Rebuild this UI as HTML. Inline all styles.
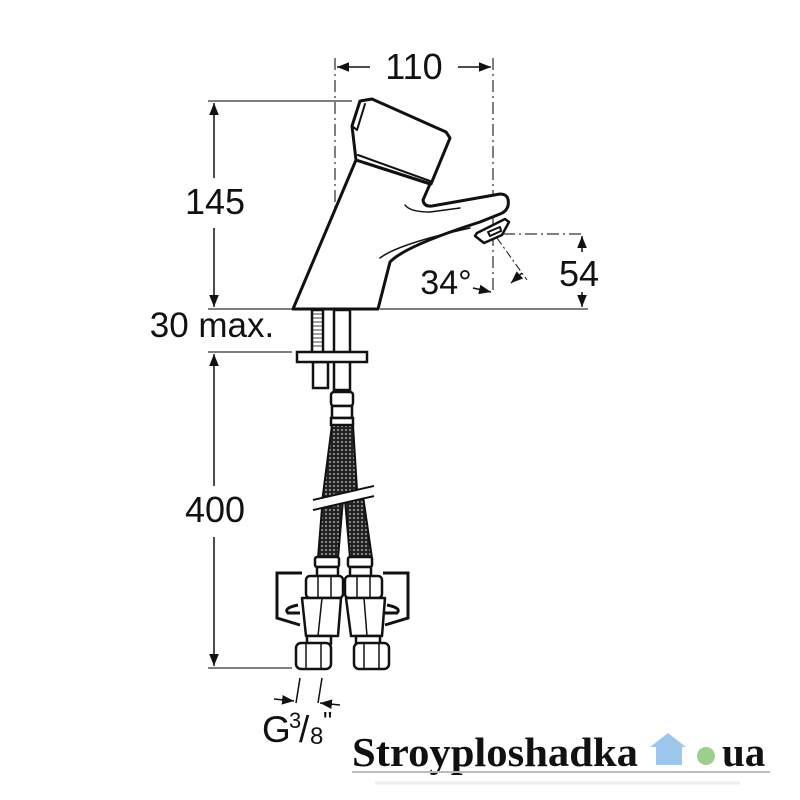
<!DOCTYPE html>
<html><head><meta charset="utf-8"><style>
html,body{margin:0;padding:0;background:#fff;width:800px;height:800px;overflow:hidden}
svg{display:block}
text{font-family:"Liberation Sans",sans-serif;fill:#111}
</style></head><body>
<svg width="800" height="800" viewBox="0 0 800 800" xmlns="http://www.w3.org/2000/svg">
<defs>
<pattern id="br" width="4" height="4" patternUnits="userSpaceOnUse">
<rect width="4" height="4" fill="#222"/><circle cx="2" cy="2" r="0.9" fill="#ccc"/>
</pattern>
<marker id="ar" viewBox="0 0 10 10" refX="10" refY="5" markerWidth="8" markerHeight="8" orient="auto-start-reverse"><path d="M0,1 L10,5 L0,9 z" fill="#111"/></marker>
</defs>
<g stroke="#555" stroke-width="1.5" fill="none">
<line x1="335" y1="58" x2="335" y2="290" stroke-dasharray="12,4,2,4"/>
<line x1="493" y1="58" x2="493" y2="290" stroke-dasharray="12,4,2,4"/>
<line x1="503" y1="234" x2="585" y2="234" stroke-dasharray="12,4,2,4"/>
<line x1="208" y1="101" x2="352" y2="101"/>
<line x1="208" y1="309" x2="292" y2="309"/>
<line x1="380" y1="309" x2="588" y2="309"/>
<line x1="208" y1="352" x2="292" y2="352"/>
<line x1="208" y1="668" x2="292" y2="668"/>
</g>
<g stroke="#111" stroke-width="1.5" fill="none">
<line x1="214" y1="103" x2="214" y2="178" marker-start="url(#ar)"/>
<line x1="214" y1="228" x2="214" y2="307" marker-end="url(#ar)"/>
<line x1="214" y1="354" x2="214" y2="486" marker-start="url(#ar)"/>
<line x1="214" y1="537" x2="214" y2="666" marker-end="url(#ar)"/>
<line x1="370" y1="67" x2="337" y2="67" marker-end="url(#ar)"/>
<line x1="458" y1="67" x2="491" y2="67" marker-end="url(#ar)"/>
<line x1="582" y1="252" x2="582" y2="236" marker-end="url(#ar)"/>
<line x1="582" y1="292" x2="582" y2="307" marker-end="url(#ar)"/>
<line x1="473" y1="288" x2="491" y2="292" marker-end="url(#ar)"/>
<line x1="522" y1="273" x2="511" y2="283" marker-end="url(#ar)"/>
<line x1="497" y1="238" x2="527" y2="280" stroke-dasharray="8,3,2,3" stroke-width="1"/>
<line x1="300" y1="678" x2="296" y2="703"/>
<line x1="322" y1="678" x2="318" y2="703"/>
<line x1="274" y1="699" x2="294" y2="701" marker-end="url(#ar)"/>
<line x1="340" y1="705" x2="320" y2="703" marker-end="url(#ar)"/>
</g>
<g stroke="#111" stroke-width="3" fill="#fff" stroke-linejoin="round" stroke-linecap="round">
<path d="M293,309 L356,160 L430,184 L423,200 Q424,207 432,206 L500,194 Q510,194 508,206 Q506,212 500,214 L480,222 Q405,246 390,262 L378,309 Z"/>
<path d="M356,160 L352,126 L360,101 L372,99 L446,132 L450,138 L431,184 Z"/>
<path d="M352,126 L357,130 L365,104" fill="none" stroke-width="2"/>
<path d="M358,155 L430,181" fill="none" stroke-width="2"/>
<path d="M477,233 L505,219 L509,222 L502,235 L484,243 L475,236 Z" stroke-width="2.5"/>
<path d="M488,232 L500,227 L501,231 L490,236 Z" stroke-width="2"/>
<path d="M405,205 Q410,212 430,212 L460,208" fill="none" stroke-width="1.5"/>
<path d="M380,258 Q398,244 470,228" fill="none" stroke-width="1.5"/>
</g>
<g stroke="#111" stroke-width="2.5" fill="#fff">
<rect x="312" y="310" width="11" height="43"/>
<rect x="313" y="362" width="15" height="26"/>
<rect x="334" y="310" width="16" height="80"/>
<rect x="297" y="352" width="70" height="10"/>
</g>
<g stroke="#444" stroke-width="1">
<path d="M313,314h9M313,318h9M313,322h9M313,326h9M313,330h9M313,334h9M313,338h9M313,342h9M313,346h9"/>
</g>
<g stroke="#111" stroke-width="2.5" fill="#fff">
<rect x="331" y="392" width="22" height="14" rx="3"/>
<rect x="332" y="406" width="20" height="12"/>
<rect x="331" y="418" width="22" height="7"/>
</g>
<path d="M332,425 L353,425 L357,490 L322,502 Z" fill="url(#br)" stroke="#111" stroke-width="2"/>
<path d="M322,508 L343,500 L338,558 L318,558 Z" fill="url(#br)" stroke="#111" stroke-width="2"/>
<path d="M345,500 L363,496 L372,558 L350,558 Z" fill="url(#br)" stroke="#111" stroke-width="2"/>
<path d="M313,500 L374,486 M313,510 L374,496" stroke="#111" stroke-width="2"/>
<path d="M313,501 L374,487 L374,495 L313,509 Z" fill="#fff"/>
<g stroke="#111" stroke-width="3" fill="#fff">
<path d="M302,573 L277,573 L277,618 L300,625"/>
<path d="M298,605 Q283,608 288,613 L300,613"/>
<path d="M383,573 L408,573 L408,618 L385,625"/>
<path d="M387,605 Q402,608 397,613 L385,613"/>
</g>
<g stroke="#111" stroke-width="2.5" fill="#fff" stroke-linejoin="round">
<rect x="315" y="557" width="24" height="10" rx="2"/>
<rect x="317" y="567" width="21" height="9"/>
<rect x="306" y="576" width="37" height="22" rx="4"/>
<path d="M302,598 L341,598 L338,636 L306,636 Z"/>
<rect x="307" y="636" width="24" height="8"/>
<rect x="296" y="643" width="35" height="26" rx="5"/>
<rect x="348" y="557" width="24" height="10" rx="2"/>
<rect x="350" y="567" width="21" height="9"/>
<rect x="345" y="576" width="37" height="22" rx="4"/>
<path d="M346,598 L385,598 L382,636 L351,636 Z"/>
<rect x="356" y="636" width="24" height="8"/>
<rect x="354" y="643" width="35" height="26" rx="5"/>
</g>
<g stroke="#111" stroke-width="1.5">
<line x1="322" y1="598" x2="318" y2="636"/><line x1="364" y1="598" x2="367" y2="636"/>
<line x1="306" y1="643" x2="306" y2="669"/><line x1="321" y1="643" x2="321" y2="669"/>
<line x1="364" y1="643" x2="364" y2="669"/><line x1="379" y1="643" x2="379" y2="669"/>
<line x1="318" y1="576" x2="318" y2="598"/><line x1="331" y1="576" x2="331" y2="598"/>
<line x1="357" y1="576" x2="357" y2="598"/><line x1="370" y1="576" x2="370" y2="598"/>
</g>
<text x="414" y="79" font-size="36" text-anchor="middle">110</text>
<text x="215" y="214" font-size="36" text-anchor="middle">145</text>
<text x="212" y="337" font-size="35" text-anchor="middle">30 max.</text>
<text x="215" y="522" font-size="36" text-anchor="middle">400</text>
<text x="446" y="294" font-size="34" text-anchor="middle">34°</text>
<text x="579" y="286" font-size="36" text-anchor="middle">54</text>
<text x="262" y="742" font-size="37">G</text>
<text x="289" y="728" font-size="22">3</text>
<text x="299" y="742" font-size="37">/</text>
<text x="310" y="744" font-size="24">8</text>
<text x="323" y="730" font-size="26">"</text>
<text x="352" y="766" font-size="41" font-weight="bold" textLength="286" lengthAdjust="spacingAndGlyphs" style="font-family:'Liberation Serif',serif" fill="#8a8a8a">Stroyploshadka</text>
<path d="M650,747 L668,733 L686,747 L682,747 L682,765 L656,765 L656,747 Z" fill="#9ec7ec"/>
<circle cx="706" cy="756" r="9" fill="#9fcf8f"/>
<text x="722" y="766" font-size="41" font-weight="bold" style="font-family:'Liberation Serif',serif" fill="#8a8a8a">ua</text>
<line x1="352" y1="772" x2="770" y2="772" stroke="#bbb" stroke-width="2"/>
<line x1="375" y1="783" x2="740" y2="783" stroke="#eee" stroke-width="3"/>
</svg>
</body></html>
